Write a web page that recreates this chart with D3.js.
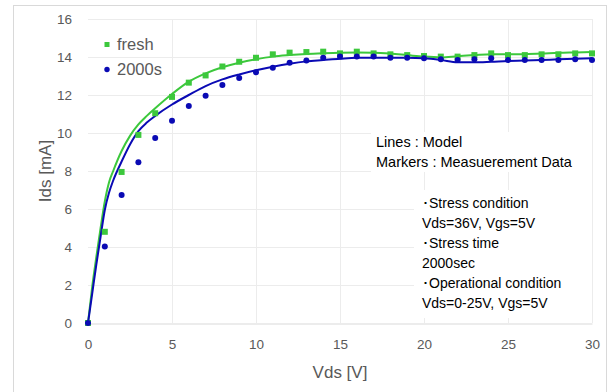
<!DOCTYPE html>
<html>
<head>
<meta charset="utf-8">
<script src="https://cdn.jsdelivr.net/npm/d3@7"></script>
<style>
body { margin: 0; background: #fff; }
text { font-family: "Liberation Sans", Arial, sans-serif; }
</style>
</head>
<body>
<div id="chart"></div>
<script>
const width = 613, height = 392;

// measured data (markers)
const vdsMeas = d3.range(0, 31);
const freshMeas = [0, 4.8, 7.95, 9.9, 11.04, 11.9, 12.65, 13.03, 13.5, 13.75, 13.96, 14.14, 14.23, 14.26, 14.28, 14.19,
  14.28, 14.19, 14.14, 14.1, 14.05, 14.02, 14.02, 14.1, 14.19, 14.1, 14.1, 14.14, 14.14, 14.19, 14.19];
const agedMeas = [0, 4.02, 6.74, 8.46, 9.74, 10.65, 11.42, 11.96, 12.53, 12.89, 13.2, 13.44, 13.7, 13.82, 13.96, 14.02,
  14.02, 14.02, 13.96, 13.96, 13.93, 13.88, 13.84, 13.88, 13.93, 13.84, 13.84, 13.84, 13.84, 13.88, 13.84];

// model (lines)
const vdsModel = [0, 0.25, 0.5, 0.75, 1, 1.25, 1.5, 2, 2.5, 3, 3.5, 4, 5, 6, 7, 8, 9, 10, 11, 12, 13, 14, 15,
  16, 17, 18, 19, 20, 21, 22, 23, 24, 25, 26, 27, 28, 29, 30];
const freshModel = [0, 1.9, 3.5, 5.0, 6.4, 7.4, 8.0, 9.05, 9.85, 10.45, 10.9, 11.3, 12.05, 12.7, 13.14, 13.46, 13.7, 13.88,
  14.02, 14.1, 14.16, 14.2, 14.23, 14.24, 14.23, 14.18, 14.1, 14.02, 13.98, 14.04, 14.1, 14.15, 14.14, 14.15, 14.18, 14.22, 14.24, 14.26];
const agedModel = [0, 1.55, 3.1, 4.55, 5.95, 6.85, 7.5, 8.5, 9.4, 10.1, 10.55, 10.9, 11.5, 12.0, 12.47, 12.82, 13.08, 13.3,
  13.49, 13.65, 13.77, 13.84, 13.91, 13.96, 13.96, 13.96, 13.96, 13.93, 13.84, 13.72, 13.72, 13.75, 13.79, 13.81, 13.84, 13.88, 13.91, 13.93];

const xTicks = [0, 5, 10, 15, 20, 25, 30];
const yTicks = [0, 2, 4, 6, 8, 10, 12, 14, 16];

const notes1 = ["Lines : Model", "Markers : Measuerement Data"];
const notes2 = ["\uFF65Stress condition", "Vds=36V, Vgs=5V", "\uFF65Stress time", "2000sec", "\uFF65Operational condition", "Vds=0-25V, Vgs=5V"];

const green = "#3cc83c", blue = "#0a0ab4", grey = "#595959";

const svg = d3.select("#chart").append("svg")
  .attr("width", width).attr("height", height);

// outer frame
svg.append("rect")
  .attr("x", 13.5).attr("y", 5.5).attr("width", 593).attr("height", 420)
  .attr("fill", "none").attr("stroke", "#d9d9d9");

const x = d3.scaleLinear().domain([0, 30]).range([88, 592]);
const y = d3.scaleLinear().domain([0, 16]).range([323, 19]);

// grid
svg.append("g")
  .selectAll("line")
  .data(yTicks.slice(1))
  .join("line")
  .attr("x1", x(0)).attr("x2", x(30))
  .attr("y1", d => y(d) + 0.5).attr("y2", d => y(d) + 0.5)
  .attr("stroke", "#ececec");
svg.append("g")
  .selectAll("line")
  .data(xTicks.slice(1))
  .join("line")
  .attr("x1", d => x(d) + 0.5).attr("x2", d => x(d) + 0.5)
  .attr("y1", y(0)).attr("y2", y(16))
  .attr("stroke", "#ececec");

// axes
const xAxis = svg.append("g")
  .attr("transform", `translate(0,${y(0) + 0.5})`)
  .call(d3.axisBottom(x).tickValues(xTicks).tickSize(0).tickPadding(16));
xAxis.select(".domain").attr("stroke", "#d9d9d9");
xAxis.selectAll("text").attr("fill", grey).style("font-size", "13.5px");

const yAxis = svg.append("g")
  .attr("transform", `translate(${x(0) - 16},0)`)
  .call(d3.axisLeft(y).tickValues(yTicks).tickSize(0).tickPadding(0));
yAxis.select(".domain").remove();
yAxis.selectAll("text").attr("fill", grey).style("font-size", "13.5px");

svg.append("text")
  .attr("x", (x(0) + x(30)) / 2).attr("y", 378)
  .attr("text-anchor", "middle").attr("fill", grey)
  .style("font-size", "17px").text("Vds [V]");
svg.append("text")
  .attr("transform", `translate(51,${(y(0) + y(16)) / 2}) rotate(-90)`)
  .attr("text-anchor", "middle").attr("fill", grey)
  .style("font-size", "17px").text("Ids [mA]");

// annotation boxes
svg.append("rect").attr("x", 371).attr("y", 132).attr("width", 221).attr("height", 40).attr("fill", "#fff");
svg.append("rect").attr("x", 414).attr("y", 190).attr("width", 178).attr("height", 128).attr("fill", "#fff");

svg.append("g").selectAll("text")
  .data(notes1).join("text")
  .attr("x", 376).attr("y", (d, i) => 147 + i * 20)
  .attr("fill", "#000").style("font-size", "14.5px")
  .text(d => d);
svg.append("g").selectAll("text")
  .data(notes2).join("text")
  .attr("x", 422).attr("y", (d, i) => 208 + i * 20)
  .attr("fill", "#000").style("font-size", "14px")
  .text(d => d);

// model lines
const line = d3.line().x(d => x(d[0])).y(d => y(d[1])).curve(d3.curveMonotoneX);
svg.append("path")
  .datum(vdsModel.map((v, i) => [v, freshModel[i]]))
  .attr("d", line).attr("fill", "none").attr("stroke", green).attr("stroke-width", 2);
svg.append("path")
  .datum(vdsModel.map((v, i) => [v, agedModel[i]]))
  .attr("d", line).attr("fill", "none").attr("stroke", blue).attr("stroke-width", 2);

// markers
svg.append("g").selectAll("rect")
  .data(vdsMeas.map((v, i) => [v, freshMeas[i]]))
  .join("rect")
  .attr("x", d => x(d[0]) - 3).attr("y", d => y(d[1]) - 3)
  .attr("width", 6).attr("height", 6)
  .attr("fill", green);
svg.append("g").selectAll("circle")
  .data(vdsMeas.map((v, i) => [v, agedMeas[i]]))
  .join("circle")
  .attr("cx", d => x(d[0])).attr("cy", d => y(d[1]))
  .attr("r", 3)
  .attr("fill", blue);

// legend
const legend = svg.append("g");
legend.append("rect").attr("x", 104.5).attr("y", 42).attr("width", 5).attr("height", 5).attr("fill", green);
legend.append("circle").attr("cx", 107).attr("cy", 69.5).attr("r", 2.7).attr("fill", blue);
legend.append("text").attr("x", 117).attr("y", 50).attr("fill", grey).style("font-size", "16.5px").text("fresh");
legend.append("text").attr("x", 117).attr("y", 75).attr("fill", grey).style("font-size", "16.5px").text("2000s");
</script>
</body>
</html>
